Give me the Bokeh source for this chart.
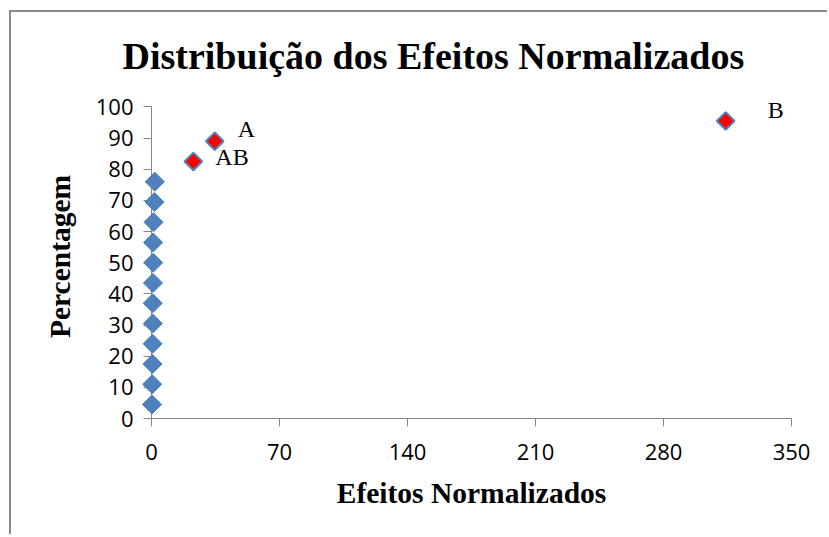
from bokeh.plotting import figure
from bokeh.models import Range1d, FixedTicker, ColumnDataSource, LabelSet, Title
from bokeh.embed import file_html
from bokeh.resources import INLINE

# ---- data ----
normal_x = [0.3, 0.4, 0.5, 0.6, 0.7, 0.7, 0.8, 0.9, 0.9, 1.1, 1.6, 1.8]
normal_y = [4.5, 11.0, 17.5, 24.0, 30.5, 37.0, 43.5, 50.0, 56.5, 63.0, 69.5, 76.0]
signif_names = ["AB", "A", "B"]
signif_x = [22.9, 34.6, 314.0]
signif_y = [82.5, 89.0, 95.5]
x_ticks = [0, 70, 140, 210, 280, 350]
y_ticks = [0, 10, 20, 30, 40, 50, 60, 70, 80, 90, 100]

title_text = "Distribuição dos Efeitos Normalizados"
x_label = "Efeitos Normalizados"
y_label = "Percentagem"

# ---- layout / style ----
W, H = 818, 524
label_dx = [22, 23, 42]
label_dy = [-4, 4, 3]

p = figure(width=W, height=H, output_backend="svg", toolbar_location=None,
           x_range=Range1d(0, 350), y_range=Range1d(0, 104),
           min_border_left=140, min_border_right=38, min_border_top=82, min_border_bottom=118)
p.styles = {"border-left": "2px solid #8a8a8a", "border-top": "2px solid #8a8a8a",
            "border-right": "none", "border-bottom": "none",
            "margin-left": "9px", "margin-top": "10px"}
p.outline_line_color = None
p.grid.visible = False
p.background_fill_color = "white"
p.border_fill_color = "white"

t = Title(text=title_text, align="left", offset=-29, standoff=35,
          text_font="Liberation Serif", text_font_style="bold", text_font_size="38px",
          text_color="black")
p.add_layout(t, "above")

for ax in (p.xaxis[0], p.yaxis[0]):
    ax.axis_line_color = "#868686"
    ax.major_tick_line_color = "#868686"
    ax.minor_tick_line_color = None
    ax.major_tick_in = 0
    ax.major_tick_out = 8
    ax.major_label_text_font = "Open Sans"
    ax.major_label_text_font_size = "22px"
    ax.major_label_text_color = "black"
    ax.axis_label_text_font = "Liberation Serif"
    ax.axis_label_text_font_style = "bold"
    ax.axis_label_text_font_size = "29.5px"
    ax.axis_label_text_color = "black"

p.xaxis.ticker = FixedTicker(ticks=x_ticks)
p.yaxis.ticker = FixedTicker(ticks=y_ticks)
p.yaxis.bounds = (0, 100)
p.xaxis.axis_label = x_label
p.yaxis.axis_label = y_label
p.xaxis.major_label_standoff = 17
p.yaxis.major_label_standoff = 10
p.xaxis.axis_label_standoff = 14
p.yaxis.axis_label_standoff = 17

r1 = p.scatter(normal_x, normal_y, marker="square", angle=0.785398, size=13.5,
               fill_color="#4F81BD", line_color="#4F81BD", line_width=1)
r1.level = "overlay"

src = ColumnDataSource(dict(x=signif_x, y=signif_y, name=signif_names, dx=label_dx, dy=label_dy))
r2 = p.scatter("x", "y", source=src, marker="square", angle=0.785398, size=12.5,
               fill_color="#FF0000", line_color="#4F81BD", line_width=2)
r2.level = "overlay"

labels = LabelSet(x="x", y="y", text="name", source=src, x_offset="dx", y_offset="dy",
                  text_font="Liberation Serif", text_font_size="24px", text_color="black",
                  text_baseline="alphabetic", text_align="left")
p.add_layout(labels)

open("out.html", "w").write(file_html(p, INLINE))
